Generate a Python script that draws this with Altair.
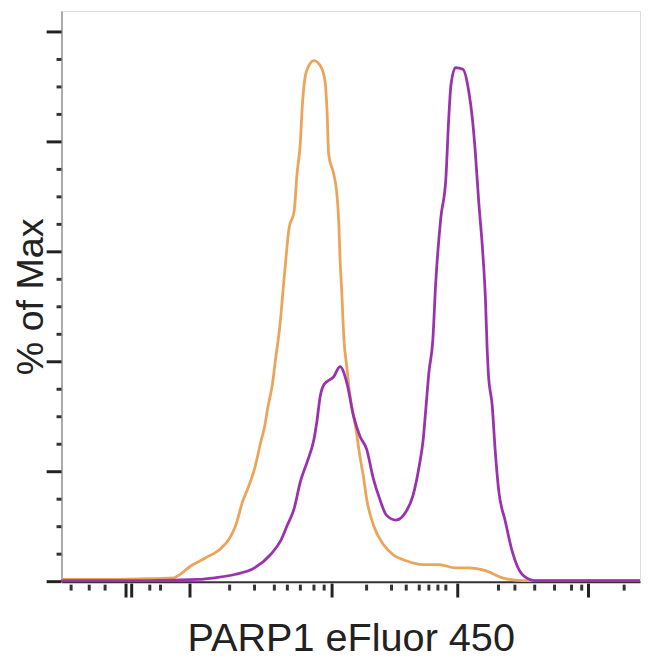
import altair as alt
import pandas as pd

# Display channel (0-1022) and % of Max
orange_x = [0, 66, 136, 198, 206, 229, 254, 282, 297, 308, 320, 329, 341, 352, 359, 364,
            373, 378, 385, 394, 402, 411, 416, 422, 425, 429, 434, 446, 457, 465, 469,
            472, 481, 486, 490, 492, 495, 499, 504, 509, 521, 527, 534, 539, 551, 569,
            586, 609, 639, 667, 696, 719, 749, 779, 814, 871, 1022]
orange_y = [0.4, 0.4, 0.5, 0.7, 1.1, 2.9, 4.3, 6.1, 7.9, 10.3, 14.6, 16.9, 20.5, 25.4, 28.3,
            31.4, 36.2, 40.4, 45.8, 56.0, 64.3, 67.4, 74.1, 80.0, 85.9, 90.8, 93.2, 94.8,
            93.9, 91.4, 85.9, 77.7, 74.1, 71.0, 65.0, 58.9, 53.0, 44.0, 39.1, 34.4, 27.2,
            22.9, 18.7, 15.1, 10.3, 6.7, 4.9, 3.8, 3.1, 3.1, 2.5, 2.5, 2.0, 0.7, 0.2, 0.2, 0.2]

purple_x = [0, 154, 241, 271, 306, 341, 369, 387, 399, 411, 422, 434, 446, 451, 457, 464,
            481, 492, 504, 516, 527, 539, 551, 562, 574, 591, 609, 621, 632, 639, 644, 649,
            656, 661, 670, 679, 684, 688, 696, 709, 719, 726, 731, 737, 744, 749, 752, 754,
            761, 766, 772, 784, 796, 814, 836, 1022]
purple_y = [0.2, 0.2, 0.4, 0.7, 1.3, 2.5, 4.9, 7.4, 10.3, 13.3, 18.2, 21.8, 25.9, 29.0, 33.7,
            35.9, 37.3, 39.1, 36.2, 30.1, 26.5, 24.1, 18.7, 15.1, 12.1, 11.2, 12.8, 15.7,
            21.1, 25.9, 31.9, 38.0, 44.0, 54.2, 66.1, 73.3, 84.1, 90.3, 93.5, 93.2, 89.5,
            84.1, 78.2, 69.2, 60.2, 51.2, 42.2, 38.0, 31.9, 24.1, 16.9, 11.0, 5.6, 1.3, 0.2, 0.2]

series_names = ["Control", "PARP1 eFluor 450"]
series_colors = ["#EBA45A", "#9A32AE"]

x_major_ticks = [114, 124, 227, 478, 700, 931]
x_minor_ticks = [17, 49, 77, 156, 175, 297, 341, 376, 399, 422, 446, 464,
                 539, 583, 609, 632, 649, 665, 679, 772, 801, 836, 871, 901, 919, 994]
y_major_ticks = [0, 20, 40, 60, 80, 100]
y_minor_ticks = [5, 10, 15, 25, 30, 35, 45, 50, 55, 65, 70, 75, 85, 90, 95]

W, H = 584, 576
X_DOMAIN = [0, 1022]
Y_DOMAIN = [0, 103.8]

df = pd.concat([
    pd.DataFrame({"x": orange_x, "y": orange_y, "s": series_names[0], "o": range(len(orange_x))}),
    pd.DataFrame({"x": purple_x, "y": purple_y, "s": series_names[1], "o": range(len(purple_x))}),
])

xscale = alt.Scale(domain=X_DOMAIN, nice=False, zero=False)
yscale = alt.Scale(domain=Y_DOMAIN, nice=False, zero=False)

xaxis = alt.Axis(title="PARP1 eFluor 450", ticks=False, labels=False, grid=False,
                 domainColor="#333333", domainWidth=2,
                 titleFont="Liberation Sans", titleFontSize=40,
                 titleFontWeight="normal", titleColor="#222222", titlePadding=37)
yaxis = alt.Axis(title="% of Max", ticks=False, labels=False, grid=False,
                 domainColor="#AAAAAA", domainWidth=2,
                 titleFont="Liberation Sans", titleFontSize=38,
                 titleFontWeight="normal", titleColor="#222222", titlePadding=11)

lines = alt.Chart(df).mark_line(strokeWidth=2.8, interpolate="monotone").encode(
    x=alt.X("x:Q", scale=xscale, axis=xaxis, title="PARP1 eFluor 450"),
    y=alt.Y("y:Q", scale=yscale, axis=yaxis, title="% of Max"),
    color=alt.Color("s:N", scale=alt.Scale(domain=series_names, range=series_colors), legend=None),
    order="o:Q",
)

ymaj = alt.Chart(pd.DataFrame({"y": y_major_ticks})).mark_rule(color="#222222", strokeWidth=3).encode(
    y=alt.Y("y:Q", scale=yscale, axis=yaxis, title="% of Max"), x=alt.value(-15), x2=alt.value(0))
ymin = alt.Chart(pd.DataFrame({"y": y_minor_ticks})).mark_rule(color="#333333", strokeWidth=3).encode(
    y=alt.Y("y:Q", scale=yscale, axis=yaxis, title="% of Max"), x=alt.value(-5), x2=alt.value(0))
xmaj = alt.Chart(pd.DataFrame({"x": x_major_ticks})).mark_rule(color="#222222", strokeWidth=3).encode(
    x=alt.X("x:Q", scale=xscale, axis=xaxis, title="PARP1 eFluor 450"), y=alt.value(H + 2), y2=alt.value(H + 16))
xmin = alt.Chart(pd.DataFrame({"x": x_minor_ticks})).mark_rule(color="#333333", strokeWidth=3).encode(
    x=alt.X("x:Q", scale=xscale, axis=xaxis, title="PARP1 eFluor 450"), y=alt.value(H + 3), y2=alt.value(H + 9))

chart = alt.layer(lines, ymaj, ymin, xmaj, xmin).properties(
    width=W, height=H,
    autosize=alt.AutoSizeParams(type="none"),
    padding={"left": 54, "top": 0, "right": 2, "bottom": 78},
).configure_view(stroke="#999999", strokeWidth=2).configure(background="white")

chart.save("out.html", embed_options={"renderer": "svg", "actions": False})
